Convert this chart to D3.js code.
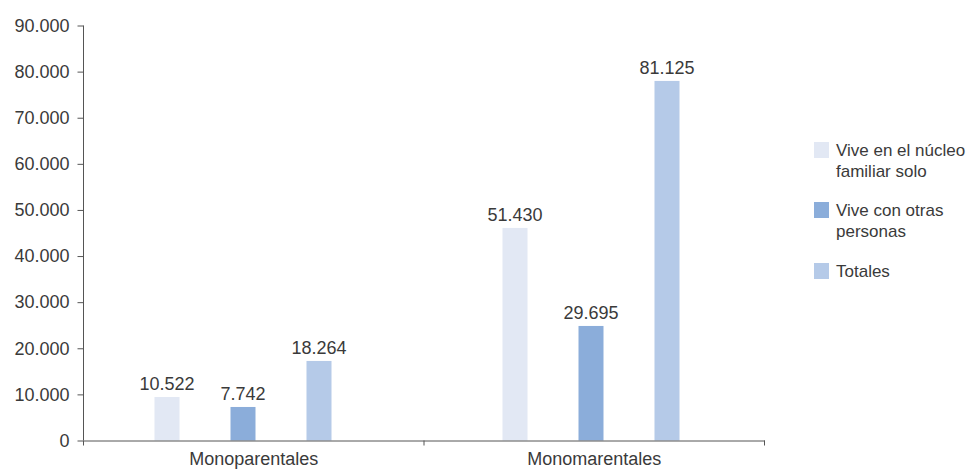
<!DOCTYPE html>
<html><head><meta charset="utf-8">
<script src="https://cdn.jsdelivr.net/npm/d3@7"></script>
<style>body{margin:0;background:#fff}svg{display:block}text{font-family:"Liberation Sans",Arial,sans-serif}</style>
</head><body>
<script>
const categories = ["Monoparentales", "Monomarentales"];
const series = ["Vive en el núcleo familiar solo", "Vive con otras personas", "Totales"];
const legendLines = [["Vive en el núcleo", "familiar solo"], ["Vive con otras", "personas"], ["Totales"]];
// bar heights as drawn in the picture
const soloValues = [9440, 46100];
const otrasValues = [7270, 24840];
const totalValues = [17250, 77980];
// printed data labels
const soloLabels = ["10.522", "51.430"];
const otrasLabels = ["7.742", "29.695"];
const totalLabels = ["18.264", "81.125"];
const yTicks = [0, 10000, 20000, 30000, 40000, 50000, 60000, 70000, 80000, 90000];
const colors = ["#e2e8f4", "#8badda", "#b5cae8"];

const W = 974, H = 469;
const FS = 18;
const svg = d3.select("body").append("svg").attr("width", W).attr("height", H);
const xAxisScale = d3.scaleBand().domain(categories).range([83.5, 764.5]);
const x0 = d3.scaleBand().domain(categories).range([79, 775]);
const x1 = d3.scaleBand().domain(series).range([75.5, 252.5]).paddingInner(0.671).paddingOuter(0);
const y = d3.scaleLinear().domain([0, 90000]).range([440.5, 25.5]);
const fmt = v => v === 0 ? "0" : d3.format(",")(v).replace(/,/g, ".");

const valuesBySeries = [soloValues, otrasValues, totalValues];
const labelsBySeries = [soloLabels, otrasLabels, totalLabels];
const rows = [];
categories.forEach((c, ci) => series.forEach((s, si) => rows.push({c, s, si, v: valuesBySeries[si][ci], l: labelsBySeries[si][ci]})));

// bars
svg.append("g").selectAll("rect").data(rows).join("rect")
  .attr("x", d => x0(d.c) + x1(d.s))
  .attr("width", x1.bandwidth())
  .attr("y", d => y(d.v))
  .attr("height", d => y(0) - y(d.v))
  .attr("fill", d => colors[d.si]);

// labels
svg.append("g").selectAll("text").data(rows).join("text")
  .attr("x", d => x0(d.c) + x1(d.s) + x1.bandwidth() / 2)
  .attr("y", d => y(d.v) - 7)
  .attr("text-anchor", "middle")
  .attr("font-size", FS).attr("fill", "#3a3a3a")
  .text(d => d.l);

// y axis
const ya = svg.append("g").attr("transform", "translate(83.5,0)")
  .call(d3.axisLeft(y).tickValues(yTicks).tickFormat(fmt).tickSize(6).tickPadding(8));
ya.select(".domain").attr("stroke", "#555").attr("d", `M0,${y(0)}V${y(90000)}`);
ya.selectAll(".tick line").attr("stroke", "#555");
ya.selectAll(".tick text").attr("font-size", FS).attr("fill", "#3a3a3a").attr("font-family", "Liberation Sans, Arial, sans-serif");

// x axis
const xa = svg.append("g").attr("transform", `translate(0,${y(0)})`)
  .call(d3.axisBottom(xAxisScale).tickSize(0).tickPadding(12));
xa.select(".domain").attr("stroke", "#555");
xa.selectAll(".tick text").attr("font-size", FS).attr("fill", "#3a3a3a").attr("font-family", "Liberation Sans, Arial, sans-serif");
const bounds = [xAxisScale.range()[0], ...categories.map(c => xAxisScale(c) + xAxisScale.bandwidth())];
xa.append("g").selectAll("line").data(bounds).join("line")
  .attr("x1", d => d).attr("x2", d => d).attr("y1", 0).attr("y2", 5).attr("stroke", "#555");

// legend
const legY = [142, 202, 263];
const lg = svg.append("g").selectAll("g").data(legendLines).join("g")
  .attr("transform", (d, i) => `translate(814,${legY[i]})`);
lg.append("rect").attr("width", 15).attr("height", 16).attr("fill", (d, i) => colors[i]);
lg.each(function (lines) {
  d3.select(this).selectAll("text").data(lines).join("text")
    .attr("x", 22).attr("y", (d, j) => 14 + j * 21)
    .attr("font-size", 17).attr("fill", "#3a3a3a").text(d => d);
});
</script>
</body></html>
